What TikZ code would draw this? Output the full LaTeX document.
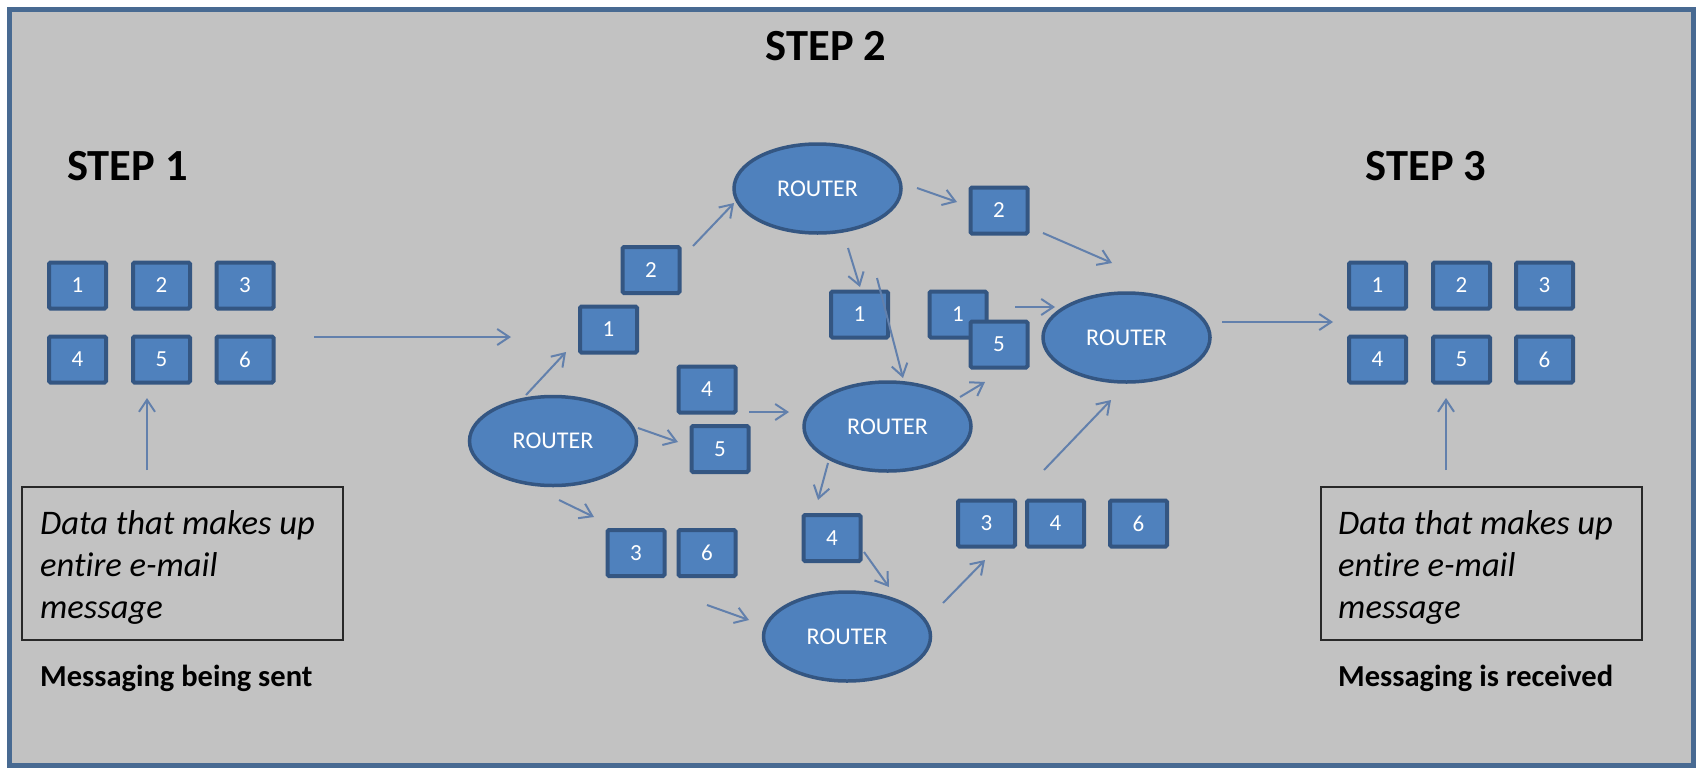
\documentclass[tikz,border=0pt]{standalone}
\usepackage{fontspec}
\setmainfont{Carlito}[Ligatures=NoCommon]
\usetikzlibrary{shapes.geometric,arrows.meta}

\definecolor{panel}{RGB}{194,194,194}
\definecolor{framec}{RGB}{72,106,146}
\definecolor{pktfill}{RGB}{79,129,189}
\definecolor{pktedge}{RGB}{52,86,130}
\definecolor{arrc}{RGB}{98,128,172}
\definecolor{boxedge}{RGB}{40,40,40}

\begin{document}
\begin{tikzpicture}[x=1pt,y=-1pt,
  pkt/.style={rectangle, rounded corners=1.5pt, fill=pktfill, draw=pktedge,
    line width=4pt, minimum width=57pt, minimum height=46pt, inner sep=0pt,
    text=white, font=\fontsize{23}{26}\selectfont},
  router/.style={ellipse, fill=pktfill, draw=pktedge, line width=3.5pt,
    minimum width=167pt, minimum height=89pt, inner sep=0pt,
    text=white, font=\fontsize{24}{27}\selectfont},
  flow/.style={draw=arrc, line width=2pt,
    -{Straight Barb[length=12pt,width=16pt]}},
  steplabel/.style={inner sep=0pt, anchor=base,
    font=\fontsize{44.5}{52}\selectfont\bfseries},
  msgbox/.style={rectangle, draw=boxedge, line width=2pt,
    minimum width=321pt, minimum height=153pt, inner sep=0pt},
  msgtext/.style={inner sep=0pt, anchor=north west, align=left,
    font=\fontsize{34.5}{42}\selectfont\itshape},
  caption/.style={inner sep=0pt, anchor=base west,
    font=\fontsize{30.5}{36}\selectfont\bfseries}
]
\useasboundingbox (0,0) rectangle (1699,769);
\fill[white] (0,0) rectangle (1699,769);
\draw[framec, line width=5pt, fill=panel] (9.5,9.5) rectangle (1693,765.5);

% headings
\node[steplabel] (step1) at (127.5,180) {STEP 1};
\node[steplabel] (step2) at (826,60) {STEP 2};
\node[steplabel] (step3) at (1426,180) {STEP 3};

% the message split into packets (sender)
\node[pkt] (s1) at (77.5,285.5) {1};
\node[pkt] (s2) at (161.5,285.5) {2};
\node[pkt] (s3) at (245,285.5) {3};
\node[pkt] (s4) at (77.5,359.5) {4};
\node[pkt] (s5) at (161.5,359.5) {5};
\node[pkt] (s6) at (245,359.5) {6};

% the reassembled packets (receiver)
\node[pkt] (d1) at (1377.5,285.5) {1};
\node[pkt] (d2) at (1461.5,285.5) {2};
\node[pkt] (d3) at (1544.5,285.5) {3};
\node[pkt] (d4) at (1377.5,359.5) {4};
\node[pkt] (d5) at (1461.5,359.5) {5};
\node[pkt] (d6) at (1544.5,359.5) {6};

% message boxes and captions
\node[msgbox] (srcbox) at (182.5,563.5) {};
\node[msgtext] (srctext) at (40,510) {Data that makes up\\entire e-mail\\message};
\node[caption] (srccap) at (40,686) {Messaging being sent};

\node[msgbox] (dstbox) at (1481.5,563.5) {};
\node[msgtext] (dsttext) at (1338,510) {Data that makes up\\entire e-mail\\message};
\node[caption] (dstcap) at (1338,686) {Messaging is received};

% routers
\node[router] (rtop) at (817.5,188.5) {ROUTER};
\node[router] (rleft) at (553,441) {ROUTER};
\node[router] (rmid) at (887.5,426.5) {ROUTER};
\node[router] (rright) at (1126.5,337.5) {ROUTER};
\node[router] (rbot) at (847,636.5) {ROUTER};

% packets in transit
\node[pkt] (t2a) at (651,270) {2};
\node[pkt] (t1a) at (608.5,329.5) {1};
\node[pkt] (t4a) at (707,389.5) {4};
\node[pkt] (t5a) at (720,449) {5};
\node[pkt] (t3a) at (636,553) {3};
\node[pkt] (t6a) at (707,553) {6};
\node[pkt] (t2b) at (999,210.5) {2};
\node[pkt] (t1b) at (859.5,314.5) {1};
\node[pkt] (t1c) at (958,314.5) {1};
\node[pkt] (t5b) at (999,344.5) {5};
\node[pkt] (t4b) at (832,538) {4};
\node[pkt] (t3b) at (986.5,523.5) {3};
\node[pkt] (t4c) at (1055.5,523.5) {4};
\node[pkt] (t6b) at (1138.5,523.5) {6};

% arrow end points
\coordinate (srcup) at (147,470);   \coordinate (srcin) at (147,398);
\coordinate (dstup) at (1446,470);  \coordinate (dstin) at (1446,398);
\coordinate (outs) at (314,337);    \coordinate (oute) at (511,337);
\coordinate (ins) at (1222,322);    \coordinate (ine) at (1333,322);
\coordinate (a1s) at (526,395);     \coordinate (a1e) at (566,352);
\coordinate (a2s) at (693,246);     \coordinate (a2e) at (734,203);
\coordinate (a3s) at (638,428);     \coordinate (a3e) at (678,442);
\coordinate (a4s) at (749,412);     \coordinate (a4e) at (789,412);
\coordinate (a5s) at (559,500);     \coordinate (a5e) at (594,517);
\coordinate (a6s) at (707,605);     \coordinate (a6e) at (749,620);
\coordinate (a7s) at (917,188);     \coordinate (a7e) at (957,202);
\coordinate (a8s) at (1043,233);    \coordinate (a8e) at (1112,263);
\coordinate (a9s) at (1015,307);    \coordinate (a9e) at (1055,307);
\coordinate (a10s) at (960,397);    \coordinate (a10e) at (985,382);
\coordinate (a11s) at (848,248);    \coordinate (a11e) at (860,287);
\coordinate (a12s) at (877,278);    \coordinate (a12e) at (903,378);
\coordinate (a13s) at (828,463);    \coordinate (a13e) at (818,500);
\coordinate (a14s) at (864,552);    \coordinate (a14e) at (889,587);
\coordinate (a15s) at (943,603);    \coordinate (a15e) at (985,560);
\coordinate (a16s) at (1044,470);   \coordinate (a16e) at (1111,400);

% connectors
\draw[flow] (srcup) -- (srcin);
\draw[flow] (dstup) -- (dstin);
\draw[flow] (outs) -- (oute);
\draw[flow] (ins) -- (ine);
\draw[flow] (a1s) -- (a1e);
\draw[flow] (a2s) -- (a2e);
\draw[flow] (a3s) -- (a3e);
\draw[flow] (a4s) -- (a4e);
\draw[flow] (a5s) -- (a5e);
\draw[flow] (a6s) -- (a6e);
\draw[flow] (a7s) -- (a7e);
\draw[flow] (a8s) -- (a8e);
\draw[flow] (a9s) -- (a9e);
\draw[flow] (a10s) -- (a10e);
\draw[flow] (a11s) -- (a11e);
\draw[flow] (a12s) -- (a12e);
\draw[flow] (a13s) -- (a13e);
\draw[flow] (a14s) -- (a14e);
\draw[flow] (a15s) -- (a15e);
\draw[flow] (a16s) -- (a16e);
\end{tikzpicture}
\end{document}
